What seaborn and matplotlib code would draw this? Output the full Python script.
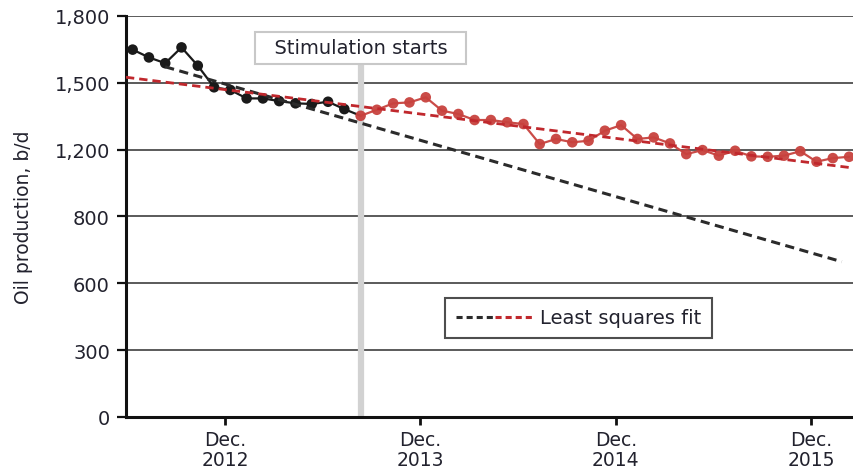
import matplotlib
matplotlib.use("Agg")
import matplotlib.pyplot as plt
import seaborn as sns
import pandas as pd
from matplotlib.lines import Line2D
from matplotlib.legend_handler import HandlerTuple

# ---------------- data (month index: 0 = Dec. 2012) ----------------
months_black = list(range(-6, 8))
oil_black = [1649, 1614, 1588, 1659, 1577, 1480, 1468, 1430, 1430, 1418,
             1408, 1405, 1415, 1382]

months_red = list(range(8, 39))
oil_red = [1352, 1379, 1408, 1412, 1435, 1375, 1360, 1333, 1333, 1323,
           1315, 1225, 1248, 1233, 1240, 1285, 1310, 1248, 1255, 1228,
           1180, 1198, 1173, 1195, 1170, 1168, 1173, 1193, 1146, 1162, 1168]

fit_black_x = [-4.0, 37.55]
fit_black_y = [1572, 697]
fit_red_x = [-6.41, 38.0]
fit_red_y = [1525, 1120]

stim_month = 8
stim_label = "Stimulation starts"

y_ticks = [0, 300, 600, 900, 1200, 1500, 1800]
y_tick_labels = ["0", "300", "600", "800", "1,200", "1,500", "1,800"]
x_tick_pos = [-1/3, 12 - 1/3, 24 - 1/3, 36 - 1/3]
x_tick_labels = ["Dec.\n2012", "Dec.\n2013", "Dec.\n2014", "Dec.\n2015"]

# ---------------- style ----------------
sns.set_theme(style="white")
plt.rcParams["font.family"] = ["DejaVu Sans"]
TXT = "#22222e"
BLACK = "#1a1a1a"
RED = "#c8423e"
FITRED = "#c0282d"

fig = plt.figure(figsize=(8.54, 4.77), dpi=100)
ax = fig.add_axes([0.1475, 0.1237, 0.8525, 0.8407])

# stimulation marker line
stim_df = pd.DataFrame({"x": [stim_month, stim_month], "y": [0, 1584]})
sns.lineplot(data=stim_df, x="x", y="y", ax=ax, color="#d2d2d2", lw=4.5,
             zorder=1.5, sort=False, estimator=None)

# connecting black line (includes first post-stimulation point)
conn_x = months_black + months_red[:1]
conn_y = oil_black + oil_red[:1]
sns.lineplot(x=conn_x, y=conn_y, ax=ax, color=BLACK, lw=1.6, zorder=3,
             estimator=None, sort=False)
sns.scatterplot(x=months_black, y=oil_black, ax=ax, color=BLACK, s=58,
                edgecolor="none", zorder=4)

sns.lineplot(x=months_red, y=oil_red, ax=ax, color=RED, lw=1.6, zorder=3,
             estimator=None, sort=False, alpha=0.95)
sns.scatterplot(x=months_red, y=oil_red, ax=ax, color=RED, s=58,
                edgecolor="none", zorder=4, alpha=0.95)

# least-squares fits
sns.lineplot(x=fit_black_x, y=fit_black_y, ax=ax, color="#2b2b2b", lw=2.2,
             linestyle=(0, (3, 1.8)), zorder=5, estimator=None, sort=False)
sns.lineplot(x=fit_red_x, y=fit_red_y, ax=ax, color=FITRED, lw=2.0,
             linestyle=(0, (3, 1.8)), zorder=5, estimator=None, sort=False)

# axes formatting (after seaborn, so its auto labels are overridden)
ax.set_xlim(-6.41, 38.3)
ax.set_ylim(0, 1800)
ax.set_yticks(y_ticks)
ax.set_yticklabels(y_tick_labels)
ax.set_xticks(x_tick_pos)
ax.set_xticklabels(x_tick_labels, linespacing=1.08)

ax.yaxis.grid(True, color="#4d4d4d", lw=1.3)
ax.xaxis.grid(False)
ax.set_axisbelow(True)

for s in ["top", "right"]:
    ax.spines[s].set_visible(False)
for s in ["left", "bottom"]:
    ax.spines[s].set_color("#111111")
    ax.spines[s].set_linewidth(2.2)

ax.tick_params(axis="y", direction="out", length=6.5, width=1.6, color="#111111",
               labelsize=14, labelcolor=TXT, pad=5, left=True)
ax.tick_params(axis="x", direction="out", length=5.5, width=2, color="#111111",
               labelsize=13.5, labelcolor=TXT, pad=4, bottom=True)

ax.set_ylabel("Oil production, b/d", fontsize=13.5, color=TXT)
ax.yaxis.set_label_coords(-0.128, 0.5)
ax.set_xlabel("")

# annotation box
ax.text(stim_month, 1657, "  " + stim_label + "  ", ha="center", va="center",
        fontsize=14, color=TXT, zorder=6,
        bbox=dict(boxstyle="square,pad=0.35", fc="white", ec="#c8c8c8", lw=1.5))

# legend
h1 = Line2D([], [], color="#2b2b2b", lw=2.2, linestyle=(0, (2, 1.3)))
h2 = Line2D([], [], color=FITRED, lw=2.2, linestyle=(0, (2, 1.3)))
leg = ax.legend([(h1, h2)], ["Least squares fit"],
                handler_map={tuple: HandlerTuple(ndivide=None, pad=0)},
                loc="center", bbox_to_anchor=(0.622, 0.247),
                fontsize=14, handlelength=4.0, handletextpad=0.35,
                frameon=True, fancybox=False, borderpad=0.55,
                borderaxespad=0)
leg.get_frame().set_edgecolor("#222222")
leg.get_frame().set_linewidth(1.5)
for t in leg.get_texts():
    t.set_color(TXT)

fig.savefig("out.png", dpi=100)
